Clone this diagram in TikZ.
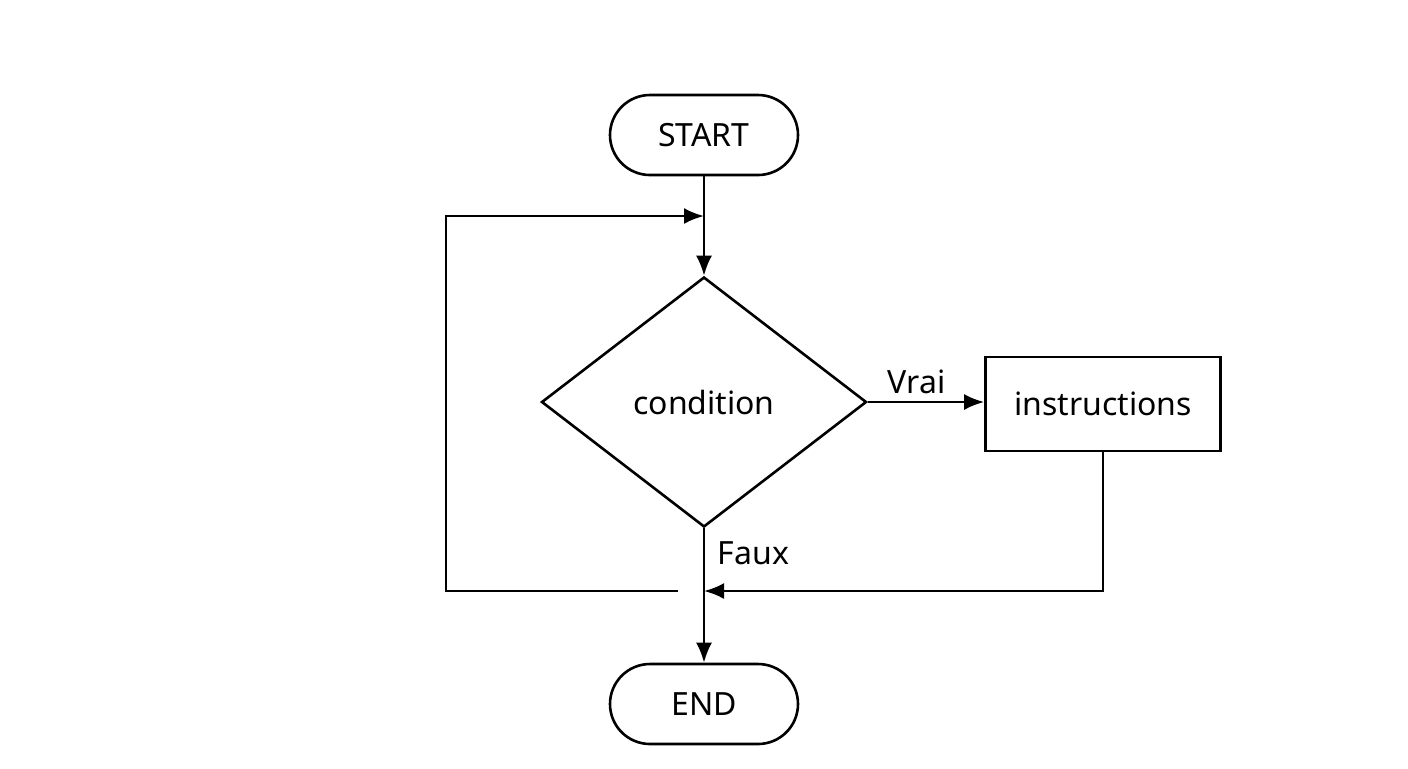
\documentclass[tikz,border=0pt]{standalone}
\usepackage{fontspec}
\setmainfont{Noto Sans}
\usetikzlibrary{positioning, shapes.geometric, arrows.meta}

\begin{document}
\begin{tikzpicture}[x=0.5pt, y=-0.5pt, line width=1.3pt, >={Latex[length=10pt, width=8pt]},
	every node/.style={font=\fontsize{16}{19}\selectfont},
	term/.style={draw, rectangle, rounded corners=20pt, minimum width=94pt, minimum height=40pt},
	cond/.style={draw, diamond, minimum width=162.5pt, minimum height=125pt, inner sep=0pt},
	instr/.style={draw, rectangle, minimum width=117.5pt, minimum height=47pt}]
	\useasboundingbox (0,0) rectangle (1408,768);
	%diagram
	\node[term] (start) at (704,135) {START};
	\node[cond] (cond) at (704,402) {condition};
	\node[instr] (instr) at (1103,404) {instructions};
	\node[term] (end) at (704,704) {END};
	\coordinate (loopin) at (704,216);
	\coordinate (join) at (704,591);
	\coordinate (loopgap) at (678,591);
	\coordinate (loopbl) at (446,591);
	\coordinate (looptl) at (446,216);
	\coordinate (instrdown) at (1103,591);
	%connectors
	\draw[->] (start) -- (cond.north);
	\draw[->] (cond.east) -- node[above, pos=0.42] {Vrai} (instr.west |- cond.east);
	\draw[->] (cond.south) -- (end.north);
	\node[right] (faux) at (710,553) {Faux};
	\draw[->] (instr.south) -- (instrdown) -- (join);
	\draw[->] (loopgap) -- (loopbl) -- (looptl) -- (loopin);
\end{tikzpicture}
\end{document}
